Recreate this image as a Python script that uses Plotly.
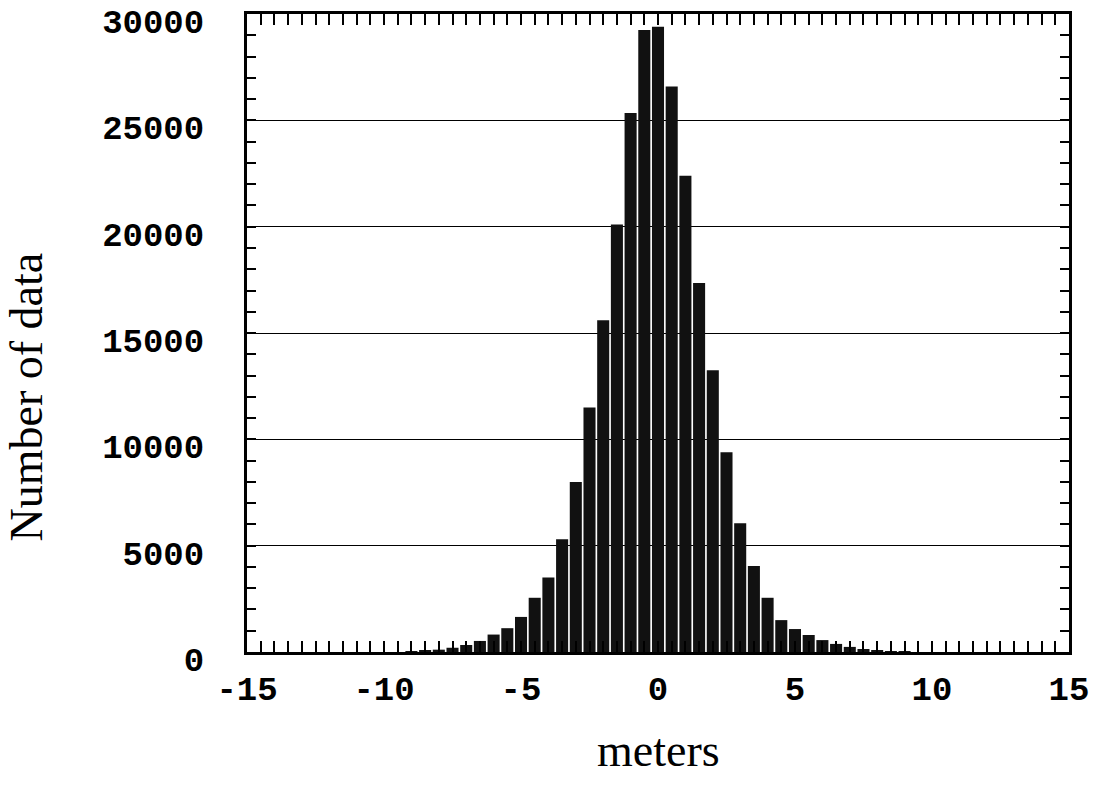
import plotly.graph_objects as go

# Bin centers (meters) and counts
bin_centers = [-9.0, -8.5, -8.0, -7.5, -7.0, -6.5, -6.0, -5.5, -5.0, -4.5,
               -4.0, -3.5, -3.0, -2.5, -2.0, -1.5, -1.0, -0.5, 0.0, 0.5,
               1.0, 1.5, 2.0, 2.5, 3.0, 3.5, 4.0, 4.5, 5.0, 5.5,
               6.0, 6.5, 7.0, 7.5, 8.0, 8.5, 9.0]
counts = [30, 60, 110, 200, 330, 520, 820, 1120, 1650, 2550,
          3500, 5300, 8000, 11500, 15600, 20100, 25350, 29250, 29400, 26600,
          22400, 17350, 13250, 9400, 6050, 4050, 2550, 1500, 1080, 800,
          560, 380, 240, 140, 80, 45, 20]

x_tick_vals = [-15, -10, -5, 0, 5, 10, 15]
y_tick_vals = [0, 5000, 10000, 15000, 20000, 25000, 30000]

fig = go.Figure()
fig.add_trace(go.Bar(
    x=bin_centers, y=counts, width=0.44,
    marker=dict(color="#111111", line=dict(width=0)),
    showlegend=False,
))

tickfont = dict(family="Liberation Mono", size=34, color="black", weight="bold")

fig.update_layout(
    width=1094, height=785,
    margin=dict(l=247, r=25, t=14, b=133, autoexpand=False),
    plot_bgcolor="white", paper_bgcolor="white",
    xaxis=dict(
        range=[-15.001, 15.001], tickvals=x_tick_vals, ticktext=[str(v) for v in x_tick_vals],
        ticks="inside", ticklen=11, tickwidth=2, tickcolor="black",
        minor=dict(dtick=0.5, tick0=0, ticks="inside", ticklen=11, tickwidth=2, tickcolor="black", showgrid=False),
        showline=True, linecolor="black", linewidth=3, mirror="allticks",
        showgrid=False, zeroline=False, tickfont=tickfont, ticklabelstandoff=4,
        ticklabeloverflow="allow", automargin=False,
    ),
    yaxis=dict(
        range=[0, 30005], tickvals=y_tick_vals, ticktext=[str(v) for v in y_tick_vals],
        ticks="inside", ticklen=9, tickwidth=2, tickcolor="black",
        minor=dict(dtick=1000, tick0=0, ticks="inside", ticklen=9, tickwidth=2, tickcolor="black", showgrid=False),
        showline=True, linecolor="black", linewidth=3, mirror="allticks",
        showgrid=True, gridcolor="black", gridwidth=1.3, zeroline=False,
        tickfont=tickfont, ticklabelstandoff=33, ticklabelshift=7,
        ticklabeloverflow="allow", automargin=False,
    ),
    annotations=[
        dict(text="Number of data", xref="paper", yref="paper", x=-0.268, y=0.40,
             textangle=-90, showarrow=False, xanchor="center", yanchor="middle",
             font=dict(family="Liberation Serif", size=46, color="black")),
        dict(text="meters", xref="paper", yref="paper", x=0.5, y=-0.155,
             showarrow=False, xanchor="center", yanchor="middle",
             font=dict(family="Liberation Serif", size=46, color="black")),
    ],
)

fig.write_html("out.html")
